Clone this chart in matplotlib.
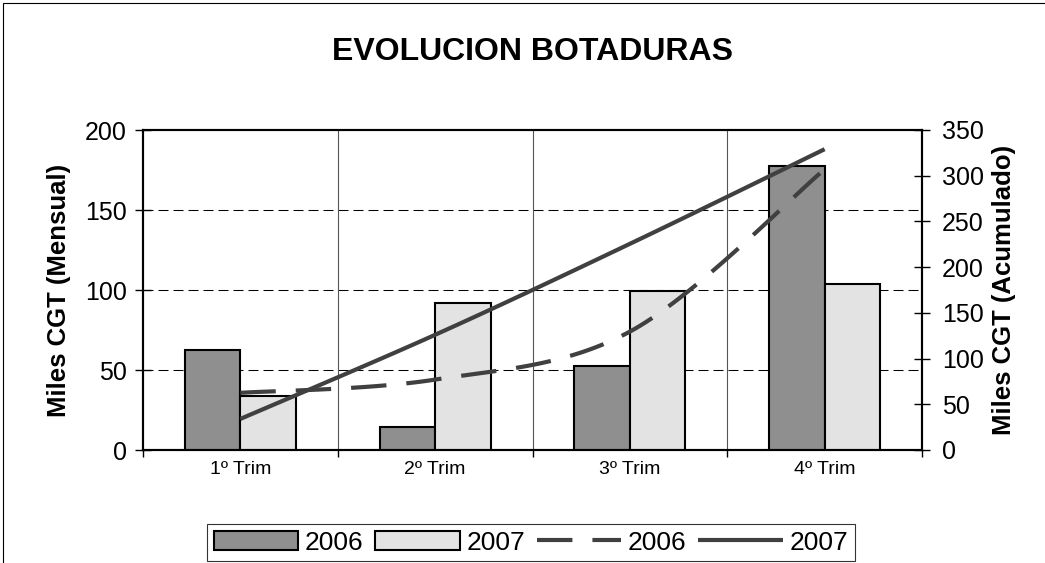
import numpy as np
import matplotlib
matplotlib.use("Agg")
import matplotlib.pyplot as plt
from matplotlib.patches import Rectangle

plt.rcParams['font.family'] = ['Liberation Sans', 'DejaVu Sans']

# datos
trimestres = ['1º Trim', '2º Trim', '3º Trim', '4º Trim']
mensual_2006 = [62.5, 14.5, 52.5, 177.5]
mensual_2007 = [34, 92, 99.5, 103.5]
acum_2006 = [62.5, 77, 129.5, 307]
acum_2007 = [34, 126, 225.5, 329]

line_col = '#404040'


def suavizar(xs, ys, n=40):
    # curva suavizada tipo Excel (bezier con tangentes catmull-rom)
    xs = np.asarray(xs, float)
    ys = np.asarray(ys, float)
    px, py = [], []
    for i in range(len(xs) - 1):
        x0, y0 = (xs[i - 1], ys[i - 1]) if i > 0 else (xs[i], ys[i])
        x3, y3 = (xs[i + 2], ys[i + 2]) if i + 2 < len(xs) else (xs[i + 1], ys[i + 1])
        c1 = (xs[i] + (xs[i + 1] - x0) / 6, ys[i] + (ys[i + 1] - y0) / 6)
        c2 = (xs[i + 1] - (x3 - xs[i]) / 6, ys[i + 1] - (y3 - ys[i]) / 6)
        t = np.linspace(0, 1, n)
        bx = ((1 - t) ** 3 * xs[i] + 3 * (1 - t) ** 2 * t * c1[0]
              + 3 * (1 - t) * t ** 2 * c2[0] + t ** 3 * xs[i + 1])
        by = ((1 - t) ** 3 * ys[i] + 3 * (1 - t) ** 2 * t * c1[1]
              + 3 * (1 - t) * t ** 2 * c2[1] + t ** 3 * ys[i + 1])
        px.extend(bx)
        py.extend(by)
    return px, py


fig = plt.figure(figsize=(10.45, 5.63), dpi=100)
ax = fig.add_axes([143 / 1045, 113 / 563, 779 / 1045, 320 / 563])
ax2 = ax.twinx()

# marco exterior del grafico
fig.patches.append(Rectangle((3 / 1045, -0.1), 1.2, 1.1 - 3 / 563, transform=fig.transFigure,
                             fill=False, edgecolor='black', linewidth=0.8))

x = np.arange(len(trimestres))
w = 0.285
plt.rcParams['hatch.linewidth'] = 0.4
ax.bar(x - w / 2, mensual_2006, w, color='#8f8f8f', edgecolor='black', linewidth=1.5,
       label='2006', zorder=3)
ax.bar(x + w / 2, mensual_2007, w, color='#e3e3e3', edgecolor='black', linewidth=1.5,
       label='2007', zorder=3)

for yv in [50, 100, 150]:
    ax.axhline(yv, color='black', linewidth=0.75, dashes=(9.6, 4.8), zorder=1)
for xv in [0.5, 1.5, 2.5]:
    ax.axvline(xv, color='#555555', linewidth=0.8, zorder=1)

sx, sy = suavizar(x, acum_2006)
ax2.plot(sx, sy, color=line_col, linewidth=3, dashes=(8.5, 4.8), label='2006',
         solid_capstyle='butt', dash_capstyle='butt')
sx, sy = suavizar(x, acum_2007)
ax2.plot(sx, sy, color=line_col, linewidth=3, label='2007', solid_capstyle='butt')

ax.set_xlim(-0.5, 3.5)
ax.set_ylim(0, 200)
ax2.set_ylim(0, 350)
ax.set_yticks([0, 50, 100, 150, 200])
ax2.set_yticks(range(0, 351, 50))

ax.set_xticks([-0.5, 0.5, 1.5, 2.5, 3.5])
ax.set_xticklabels([])
ax.set_xticks(x, minor=True)
ax.set_xticklabels(trimestres, minor=True, fontsize=14)
ax.tick_params(axis='x', which='major', direction='out', length=5, width=1)
ax.tick_params(axis='x', which='minor', length=0, pad=8)
ax.tick_params(axis='y', direction='inout', length=11, width=1, labelsize=18, pad=6)
ax2.tick_params(axis='y', direction='inout', length=11, width=1, labelsize=18, pad=9)

for a in (ax, ax2):
    for s in a.spines.values():
        s.set_linewidth(1.5)

ax.set_ylabel('Miles CGT (Mensual)', fontsize=18.5, fontweight='bold', labelpad=10)
ax2.set_ylabel('Miles CGT (Acumulado)', fontsize=18.5, fontweight='bold', labelpad=6)

fig.text(0.510, 0.907, 'EVOLUCION BOTADURAS', ha='center', va='center',
         fontsize=23, fontweight='bold')

h1, l1 = ax.get_legend_handles_labels()
h2, l2 = ax2.get_legend_handles_labels()
leg = fig.legend(h1 + h2, l1 + l2, loc='center', bbox_to_anchor=(0.508, 0.036), ncol=4,
                 fontsize=19, frameon=True, fancybox=False, edgecolor='black',
                 handlelength=3.2, handletextpad=0.25, columnspacing=0.45,
                 borderpad=0.25, borderaxespad=0)
leg.get_frame().set_linewidth(0.8)

fig.savefig('out.png', dpi=100)
